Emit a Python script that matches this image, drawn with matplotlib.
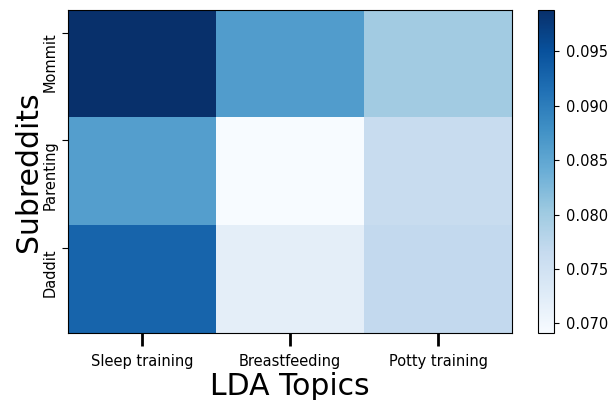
import numpy as np
import matplotlib.pyplot as plt

# Topic weights per subreddit
topics = ["Sleep training", "Breastfeeding", "Potty training"]
subreddits = ["Mommit", "Parenting", "Daddit"]
mommit = [0.0988, 0.0862, 0.0798]
parenting = [0.0860, 0.0691, 0.0762]
daddit = [0.0928, 0.0720, 0.0768]

data = np.array([mommit, parenting, daddit])

fig = plt.figure(figsize=(6.09, 4), dpi=100)
ax = fig.add_axes([0.112, 0.167, 0.729, 0.808])
cax = fig.add_axes([0.884, 0.167, 0.026, 0.808])

im = ax.imshow(data, cmap="Blues", aspect="auto", interpolation="nearest")
cb = fig.colorbar(im, cax=cax)
cb.set_ticks([0.070, 0.075, 0.080, 0.085, 0.090, 0.095])
cb.ax.tick_params(labelsize=10.5, pad=5)

ax.set_xticks(range(len(topics)))
ax.set_xticklabels(topics, fontsize=10.5)
# y ticks sit near the top of each row, labels hang below them
ax.set_yticks(np.arange(len(subreddits)) - 0.29)
ax.set_yticklabels(subreddits, fontsize=10.5, rotation=90, va="top")
ax.tick_params(axis="x", length=9, width=2, pad=6)
ax.tick_params(axis="y", length=4, width=0.8)

ax.set_xlabel("LDA Topics", fontsize=21.5, labelpad=2)
ax.set_ylabel("Subreddits", fontsize=21.5, labelpad=0)

fig.savefig("out.png", dpi=100)
